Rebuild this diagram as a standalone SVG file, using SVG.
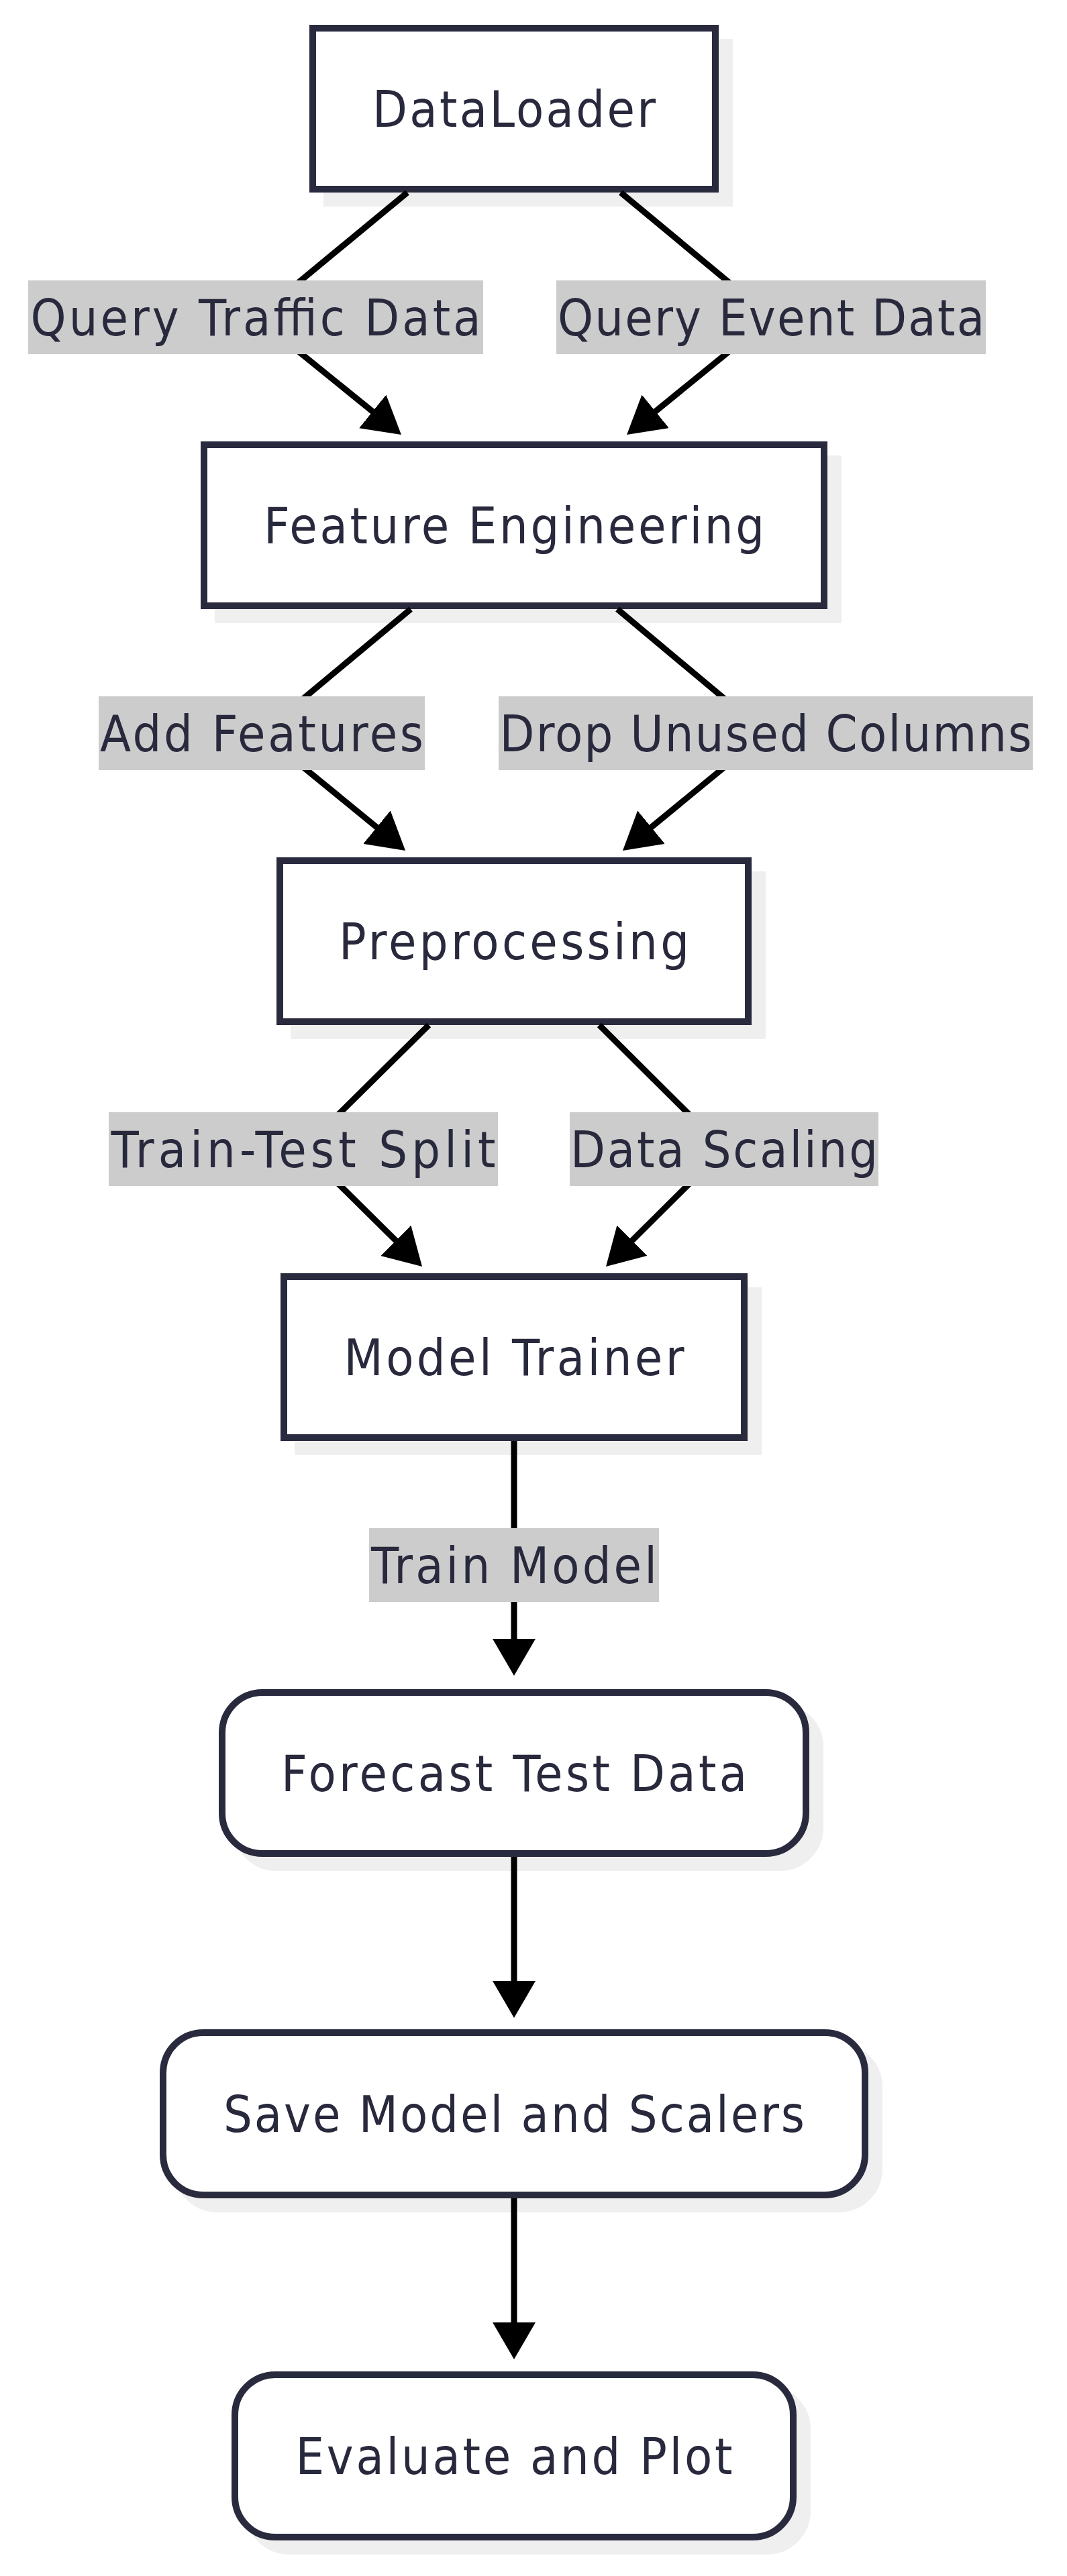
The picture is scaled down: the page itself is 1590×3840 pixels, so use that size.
<svg xmlns="http://www.w3.org/2000/svg" width="1590" height="3840" viewBox="0 0 1590 3840">
<defs>
<style>
.bg{fill:#ffffff}
.shadow{fill:#efefef;stroke:#efefef;stroke-width:10}
.box{fill:#ffffff;stroke:#2a2a3f;stroke-width:10}
.t{font-family:"DejaVu Sans Condensed","DejaVu Sans",sans-serif;font-stretch:condensed;font-size:75px;fill:#29293d;text-anchor:middle}
.lbl{fill:#cccccc}
.edge{fill:none;stroke:#000000;stroke-width:9}
</style>
<marker id="arrow" markerUnits="userSpaceOnUse" markerWidth="56" markerHeight="64" refX="45" refY="32" orient="auto" viewBox="0 0 56 64">
<path d="M0,0 L55,32 L0,64 z" fill="#000000"/>
</marker>
</defs>
<rect class="bg" x="0" y="0" width="1590" height="3840"/>

<g id="node-dataloader">
<rect class="shadow" x="487" y="63" width="600" height="240"/>
<rect class="box" x="466" y="42" width="600" height="240"/>
<text class="t" x="766" y="189" textLength="422">DataLoader</text>
</g>
<g id="node-feature-engineering">
<rect class="shadow" x="325" y="684" width="924" height="240"/>
<rect class="box" x="304" y="663" width="924" height="240"/>
<text class="t" x="766" y="810" textLength="746">Feature Engineering</text>
</g>
<g id="node-preprocessing">
<rect class="shadow" x="438" y="1304" width="698" height="240"/>
<rect class="box" x="417" y="1283" width="698" height="240"/>
<text class="t" x="766" y="1430" textLength="522">Preprocessing</text>
</g>
<g id="node-model-trainer">
<rect class="shadow" x="444" y="1924" width="686" height="240"/>
<rect class="box" x="423" y="1903" width="686" height="240"/>
<text class="t" x="766" y="2050" textLength="507">Model Trainer</text>
</g>
<g id="node-forecast">
<rect class="shadow" x="352" y="2544" width="870" height="240" rx="60" ry="60"/>
<rect class="box" x="331" y="2523" width="870" height="240" rx="60" ry="60"/>
<text class="t" x="766" y="2670" textLength="694">Forecast Test Data</text>
</g>
<g id="node-save">
<rect class="shadow" x="264" y="3051" width="1046" height="242" rx="60" ry="60"/>
<rect class="box" x="243" y="3030" width="1046" height="242" rx="60" ry="60"/>
<text class="t" x="766" y="3178" textLength="866">Save Model and Scalers</text>
</g>
<g id="node-evaluate">
<rect class="shadow" x="371" y="3561" width="832" height="242" rx="60" ry="60"/>
<rect class="box" x="350" y="3540" width="832" height="242" rx="60" ry="60"/>
<text class="t" x="766" y="3688" textLength="651">Evaluate and Plot</text>
</g>

<g id="connectors">
<path class="edge" d="M607,287 L382,473 L590.2,641.7" marker-end="url(#arrow)"/>
<path class="edge" d="M925,287 L1149,473 L941.8,641.7" marker-end="url(#arrow)"/>
<path class="edge" d="M612,908 L390,1093 L596.3,1261.7" marker-end="url(#arrow)"/>
<path class="edge" d="M920,908 L1141,1093 L935.7,1261.7" marker-end="url(#arrow)"/>
<path class="edge" d="M639,1528 L452,1713 L621.9,1881" marker-end="url(#arrow)"/>
<path class="edge" d="M893,1528 L1079,1713 L910.1,1881" marker-end="url(#arrow)"/>
<path class="edge" d="M766,2148 L766,2488" marker-end="url(#arrow)"/>
<path class="edge" d="M766,2768 L766,2998" marker-end="url(#arrow)"/>
<path class="edge" d="M766,3277 L766,3507" marker-end="url(#arrow)"/>
</g>

<g id="edge-labels">
<g id="label-query-traffic">
<rect class="lbl" x="42" y="418" width="678" height="110"/>
<text class="t" x="381" y="500" textLength="671">Query Traffic Data</text>
</g>
<g id="label-query-event">
<rect class="lbl" x="829" y="418" width="640" height="110"/>
<text class="t" x="1149" y="500" textLength="636">Query Event Data</text>
</g>
<g id="label-add-features">
<rect class="lbl" x="147" y="1038" width="486" height="110"/>
<text class="t" x="390" y="1120" textLength="482">Add Features</text>
</g>
<g id="label-drop-unused">
<rect class="lbl" x="743" y="1038" width="796" height="110"/>
<text class="t" x="1141" y="1120" textLength="793">Drop Unused Columns</text>
</g>
<g id="label-train-test">
<rect class="lbl" x="162" y="1658" width="580" height="110"/>
<text class="t" x="452" y="1740" textLength="573">Train-Test Split</text>
</g>
<g id="label-data-scaling">
<rect class="lbl" x="849" y="1658" width="460" height="110"/>
<text class="t" x="1079" y="1740" textLength="458">Data Scaling</text>
</g>
<g id="label-train-model">
<rect class="lbl" x="550" y="2278" width="432" height="110"/>
<text class="t" x="766" y="2360" textLength="426">Train Model</text>
</g>
</g>
</svg>
